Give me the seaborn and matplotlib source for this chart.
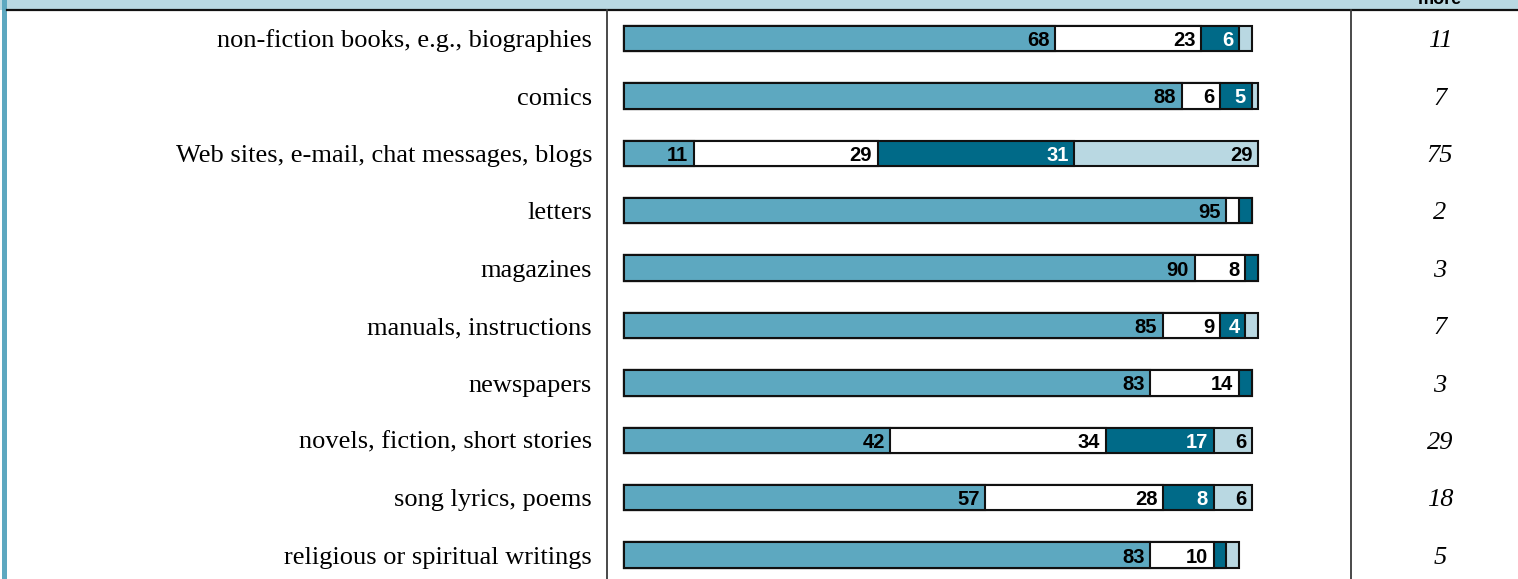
import matplotlib
matplotlib.use("Agg")
import matplotlib.pyplot as plt
import matplotlib.transforms as mtransforms
from matplotlib.patches import Rectangle
from matplotlib.lines import Line2D
import seaborn as sns
import pandas as pd
import numpy as np

# Reading materials and shares of the answers (percent)
categories = [
    "non-fiction books, e.g., biographies",
    "comics",
    "Web sites, e-mail, chat messages, blogs",
    "letters",
    "magazines",
    "manuals, instructions",
    "newspapers",
    "novels, fiction, short stories",
    "song lyrics, poems",
    "religious or spiritual writings",
]
never = [68, 88, 11, 95, 90, 85, 83, 42, 57, 83]
rarely = [23, 6, 29, 2, 8, 9, 14, 34, 28, 10]
sometimes = [6, 5, 31, 2, 2, 4, 2, 17, 8, 2]
often = [2, 1, 29, 0, 0, 2, 0, 6, 6, 2]
more_values = [11, 7, 75, 2, 3, 7, 3, 29, 18, 5]

series = [never, rarely, sometimes, often]
colors = ["#5DA8C0", "#FFFFFF", "#006A88", "#B9D8E2"]
text_colors = ["black", "black", "white", "black"]

W, H = 1518, 579
fig = plt.figure(figsize=(W / 100, H / 100), dpi=100)
fig.patch.set_facecolor("white")

# Bar panel between the two vertical rules
ax_left, ax_right = 607, 1351
ax_top = 10
ax = fig.add_axes([ax_left / W, 0, (ax_right - ax_left) / W, 1 - ax_top / H])

df = pd.DataFrame({"category": categories})
cum = np.cumsum(np.array(series, dtype=float), axis=0)

# Stacked bars drawn as overlapping cumulative totals, back to front
for k in range(len(series) - 1, -1, -1):
    df["total"] = cum[k]
    sns.barplot(data=df, x="total", y="category", orient="h", ax=ax,
                color=colors[k], saturation=1, width=0.44,
                edgecolor="#111111", linewidth=1.5)

# Segment value labels
for k, vals in enumerate(series):
    for i, v in enumerate(vals):
        if v >= 4:
            ax.annotate(str(v), xy=(cum[k][i], i), xytext=(-4, 0),
                        textcoords="offset points", ha="right",
                        va="center_baseline",
                        fontsize=14.5, fontweight="bold",
                        family="Liberation Sans", color=text_colors[k])

px_per_unit = 6.34
x0 = 624
ax.set_xlim(-(x0 - ax_left) / px_per_unit, (ax_right - x0) / px_per_unit)
row_h = 57.4
first_center = 38.5
ax.set_ylim((H - first_center) / row_h, -(first_center - ax_top) / row_h)
ax.set_axis_off()

trans = mtransforms.blended_transform_factory(ax.transAxes, ax.transData)
for i, cat in enumerate(categories):
    ax.text(-(ax_left - 592) / (ax_right - ax_left), i + 0.15, cat, transform=trans,
            ha="right", va="baseline", fontsize=19, family="Liberation Serif",
            clip_on=False)
    ax.text((1440 - ax_left) / (ax_right - ax_left), i + 0.15, str(more_values[i]),
            transform=trans, ha="center", va="baseline", fontsize=19,
            family="Liberation Serif", style="italic", clip_on=False)

# Header band, rules and frame stripe
fig.add_artist(Rectangle((0, 1 - 9.5 / H), 1, 9.5 / H, transform=fig.transFigure,
                         facecolor="#B9D8E2", edgecolor="none", zorder=0))
fig.add_artist(Line2D([7 / W, 1], [1 - 10 / H, 1 - 10 / H], transform=fig.transFigure,
                      color="#111111", linewidth=1.6))
fig.add_artist(Rectangle((1.5 / W, 0), 5.5 / W, 1, transform=fig.transFigure,
                         facecolor="#5DA8C0", edgecolor="none"))
for xp in (ax_left, ax_right):
    fig.add_artist(Line2D([xp / W, xp / W], [0, 1 - 10 / H], transform=fig.transFigure,
                          color="#3a3a3a", linewidth=1.3))
fig.text(1440 / W, 1 - 4 / H, "more", ha="center", va="baseline", fontsize=13,
         fontweight="bold", family="Liberation Sans")

fig.savefig("out.png", dpi=100)
